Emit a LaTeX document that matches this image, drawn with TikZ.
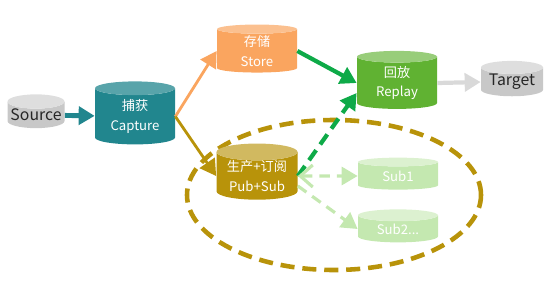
\documentclass[tikz,border=0pt]{standalone}
\usepackage{fontspec}
\setmainfont{Noto Sans CJK SC}
\usepackage{xcolor}
\usetikzlibrary{arrows.meta,positioning,shapes.geometric}

\definecolor{capteal}{RGB}{33,134,142}
\definecolor{storeorg}{RGB}{250,165,95}
\definecolor{replaygrn}{RGB}{96,178,50}
\definecolor{pubgold}{RGB}{184,147,10}
\definecolor{subgrn}{RGB}{196,232,176}
\definecolor{endgray}{RGB}{200,200,200}
\definecolor{flowgrn}{RGB}{14,170,72}

\begin{document}
\begin{tikzpicture}[
  db/.style={cylinder,shape border rotate=90,aspect=0.28,draw=none,
             cylinder uses custom fill,align=center,inner sep=0pt,
             text=white,font=\fontsize{7.5}{11}\selectfont},
  ends/.style={db,cylinder body fill=endgray,cylinder end fill=endgray!60,
               text=black!85,font=\fontsize{9}{10}\selectfont},
  flow/.style={-{Triangle[length=3.2mm,width=3.6mm]},line width=1.6pt},
  subflow/.style={dash pattern=on 6pt off 4pt,line width=1.8pt,subgrn}
]
\useasboundingbox (0,0) rectangle (11,5.68);

% pub/sub group
\draw[pubgold,line width=2.6pt,dash pattern=on 8pt off 4.5pt]
  (6.68,1.78) ellipse [x radius=2.94,y radius=1.5];

\node[ends,minimum width=1.14cm,minimum height=0.6cm] (source) at (0.72,3.38) {Source};
\node[db,minimum width=1.6cm,minimum height=1.26cm,
      cylinder body fill=capteal,cylinder end fill=capteal!75!white] (capture) at (2.70,3.35) {捕获\\Capture};
\node[db,minimum width=1.6cm,minimum height=0.96cm,
      cylinder body fill=storeorg,cylinder end fill=storeorg!70!white] (store) at (5.14,4.66) {存储\\Store};
\node[db,minimum width=1.6cm,minimum height=1.16cm,
      cylinder body fill=replaygrn,cylinder end fill=replaygrn!65!white] (replay) at (7.94,4.02) {回放\\Replay};
\node[ends,minimum width=1.24cm,minimum height=0.56cm] (target) at (10.24,4.04) {Target};
\node[db,minimum width=1.62cm,minimum height=1.02cm,
      cylinder body fill=pubgold,cylinder end fill=pubgold!65!white] (pubsub) at (5.14,2.16) {生产+订阅\\Pub+Sub};
\node[db,minimum width=1.6cm,minimum height=0.64cm,
      cylinder body fill=subgrn,cylinder end fill=subgrn!60!white] (sub1) at (7.96,2.16) {Sub1};
\node[db,minimum width=1.6cm,minimum height=0.66cm,
      cylinder body fill=subgrn,cylinder end fill=subgrn!60!white] (sub2) at (7.96,1.10) {Sub2...};

\draw[flow,capteal,line width=2.8pt] (source) -- (capture);
\draw[flow,storeorg] (capture.east) -- (store.west);
\draw[flow,pubgold] (capture.east) -- (pubsub.west);
\draw[flow,flowgrn,line width=2.4pt] (store.east) -- (replay.west);
\draw[flow,flowgrn,line width=2.4pt,dash pattern=on 7pt off 4pt] (pubsub.east) -- ([yshift=-2mm]replay.west);
\draw[flow,black!15,line width=2.4pt] (replay.east) -- (target.west);
\draw[subflow,{Straight Barb[length=2.5mm,width=4.4mm]}-{Triangle[length=3.2mm,width=3.6mm]}] (pubsub.east) -- (sub1.west);
\draw[subflow,-{Triangle[length=3.2mm,width=3.6mm]}] ([yshift=-2mm]pubsub.east) -- (sub2.west);
\end{tikzpicture}
\end{document}
